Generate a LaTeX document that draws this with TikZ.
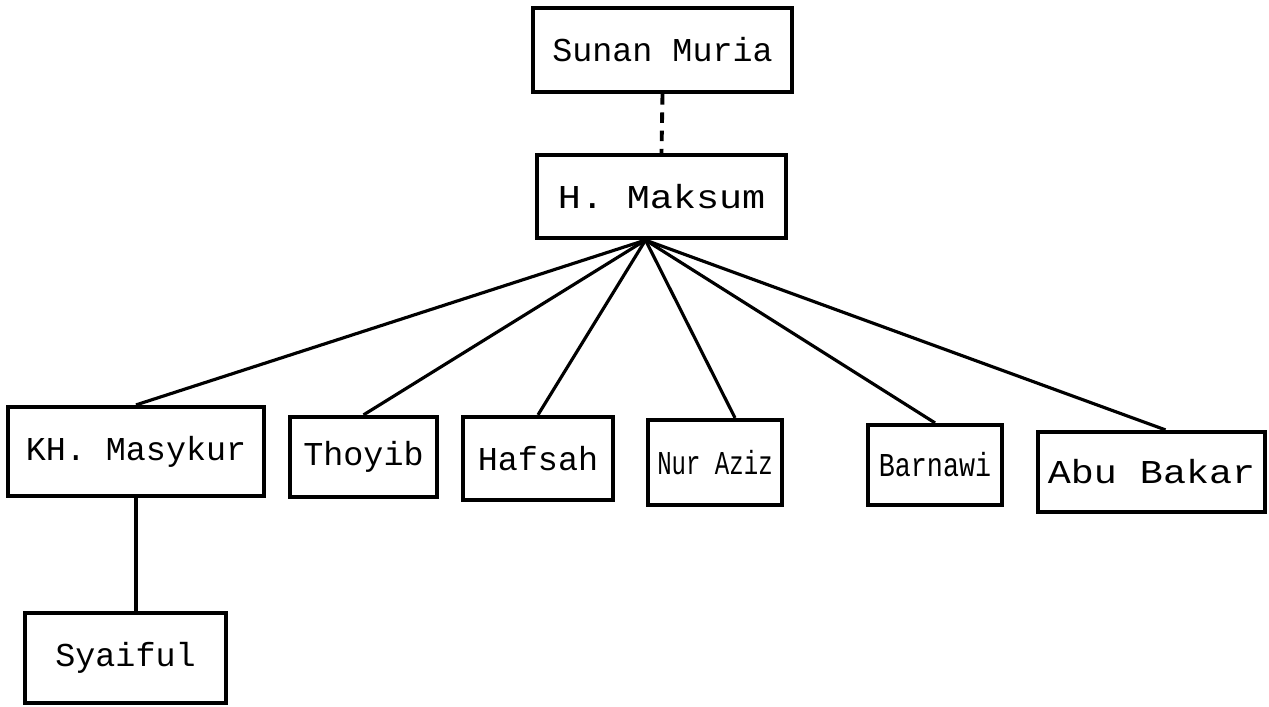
\documentclass[tikz,border=0pt]{standalone}
\usepackage{fontspec}
\setmonofont{Liberation Mono}
\usepackage{tikz}

\begin{document}
\begin{tikzpicture}[
        box/.style={draw, line width=1.2pt, rectangle, inner sep=0pt,
                    font=\ttfamily\fontsize{9.5}{11}\selectfont},
        squeeze/.style={font=\ttfamily\fontsize{9.5}{11}\selectfont\addfontfeatures{FakeStretch=#1}},
        link/.style={line width=0.9pt},
        gap/.style={line width=1.1pt, dash pattern=on 3pt off 2.2pt}
    ]
        \useasboundingbox (0,0) rectangle (12.69,7.06);     % Frame

        % Top
        \node[box, minimum width=2.59cm, minimum height=0.84cm] (muria)  at (6.625,6.56)  {Sunan Muria};
        \node[box, squeeze=1.15, minimum width=2.49cm, minimum height=0.83cm] (maksum) at (6.615,5.095) {H. Maksum};

        % Children
        \node[box, minimum width=2.56cm, minimum height=0.89cm] (masykur)  at (1.36,2.545)  {KH. Masykur};
        \node[box, minimum width=1.47cm, minimum height=0.80cm] (thoyib)   at (3.635,2.49)  {Thoyib};
        \node[box, minimum width=1.50cm, minimum height=0.83cm] (hafsah)   at (5.38,2.475)  {Hafsah};
        \node[box, squeeze=0.72, minimum width=1.34cm, minimum height=0.85cm] (nuraziz)  at (7.15,2.435)  {Nur Aziz};
        \node[box, squeeze=0.8, minimum width=1.34cm, minimum height=0.80cm] (barnawi)  at (9.35,2.41)   {Barnawi};
        \node[box, squeeze=1.15, minimum width=2.27cm, minimum height=0.80cm] (abubakar) at (11.515,2.34) {Abu Bakar};

        % Grandchild
        \node[box, minimum width=2.01cm, minimum height=0.90cm] (syaiful) at (1.255,0.48) {Syaiful};

        % Lines
        \draw[gap] (muria.south) -- (maksum.north);
        \coordinate (hub) at ([xshift=-1.6mm]maksum.south);
        \foreach \n in {masykur,thoyib,hafsah,barnawi}
            \draw[link] (hub) -- (\n.north);
        \draw[link] (hub) -- ([xshift=2mm]nuraziz.north);
        \draw[link] (hub) -- ([xshift=1.4mm]abubakar.north);
        \draw[link] (masykur.south) -- (masykur.south |- syaiful.north);
    \end{tikzpicture}
\end{document}
